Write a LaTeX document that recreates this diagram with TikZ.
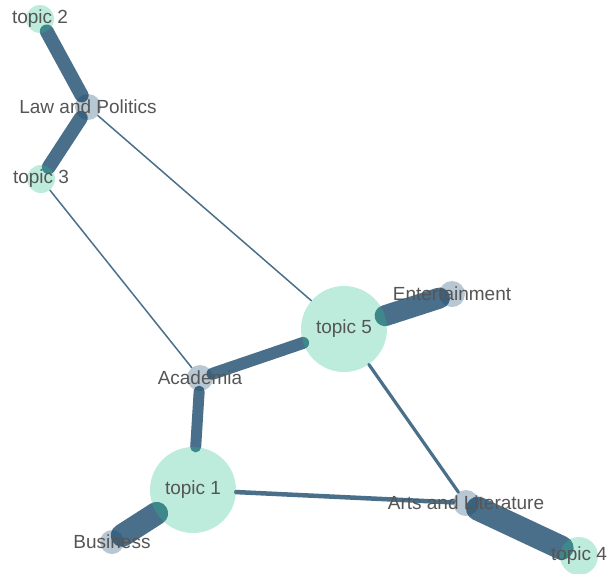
\documentclass[tikz,border=0pt]{standalone}
\usepackage{fontspec}
\setmainfont{Liberation Sans}
\definecolor{edgec}{RGB}{74,111,138}
\definecolor{topicc}{RGB}{37,192,144}
\definecolor{catc}{RGB}{18,68,108}
\definecolor{txtc}{RGB}{85,85,85}
\begin{document}
\begin{tikzpicture}[x=1pt,y=-1pt,
  topic/.style={circle,inner sep=0pt,fill=topicc,fill opacity=0.3,draw=none},
  cat/.style={circle,inner sep=0pt,fill=catc,fill opacity=0.3,draw=none,minimum size=26pt},
  lbl/.style={inner sep=0pt,text=txtc,font=\fontsize{19}{22}\selectfont},
  edge/.style={draw=edgec,line cap=round}]
\useasboundingbox (0,0) rectangle (609,573);
% node positions
\coordinate (p2) at (40,19);
\coordinate (plaw) at (88,107);
\coordinate (p3) at (41,179);
\coordinate (p5) at (344,329);
\coordinate (pent) at (452,294);
\coordinate (pac) at (200,378);
\coordinate (p1) at (193,490);
\coordinate (pbus) at (112,542);
\coordinate (parts) at (466,503);
\coordinate (p4) at (579,556);
% shape nodes (invisible, for connector clipping)
\node[circle,inner sep=0pt,minimum size=28pt] (t2) at (p2) {};
\node[circle,inner sep=0pt,minimum size=26pt] (law) at (plaw) {};
\node[circle,inner sep=0pt,minimum size=28pt] (t3) at (p3) {};
\node[circle,inner sep=0pt,minimum size=86pt] (t5) at (p5) {};
\node[circle,inner sep=0pt,minimum size=26pt] (ent) at (pent) {};
\node[circle,inner sep=0pt,minimum size=26pt] (ac) at (pac) {};
\node[circle,inner sep=0pt,minimum size=86pt] (t1) at (p1) {};
\node[circle,inner sep=0pt,minimum size=24pt] (bus) at (pbus) {};
\node[circle,inner sep=0pt,minimum size=26pt] (arts) at (parts) {};
\node[circle,inner sep=0pt,minimum size=38pt] (t4) at (p4) {};
% connectors
\draw[edge,line width=14pt] (t2) -- (law);
\draw[edge,line width=14pt] (law) -- (t3);
\draw[edge,line width=1.5pt] (law) -- (t5);
\draw[edge,line width=1.5pt] (t3) -- (ac);
\draw[edge,line width=12pt] (ac) -- (t5);
\draw[edge,line width=11pt] (ac) -- (t1);
\draw[edge,line width=21pt] (t5) -- (ent);
\draw[edge,line width=3.2pt] (t5) -- (arts);
\draw[edge,line width=4.5pt] (t1) -- (arts);
\draw[edge,line width=23pt] (t1) -- (bus);
\draw[edge,line width=24pt] (arts) -- (t4);
% visible circles
\node[topic,minimum size=28pt] (c2) at (p2) {};
\node[cat] (claw) at (plaw) {};
\node[topic,minimum size=28pt] (c3) at (p3) {};
\node[topic,minimum size=86pt] (c5) at (p5) {};
\node[cat] (cent) at (pent) {};
\node[cat] (cac) at (pac) {};
\node[topic,minimum size=86pt] (c1) at (p1) {};
\node[cat,minimum size=24pt] (cbus) at (pbus) {};
\node[cat] (carts) at (parts) {};
\node[topic,minimum size=38pt] (c4) at (p4) {};
% labels
\node[lbl] (l2) at (p2) {topic 2};
\node[lbl] (llaw) at (plaw) {Law and Politics};
\node[lbl] (l3) at (p3) {topic 3};
\node[lbl] (l5) at (p5) {topic 5};
\node[lbl] (lent) at (pent) {Entertainment};
\node[lbl] (lac) at (pac) {Academia};
\node[lbl] (l1) at (p1) {topic 1};
\node[lbl] (lbus) at (pbus) {Business};
\node[lbl] (larts) at (parts) {Arts and Literature};
\node[lbl] (l4) at (p4) {topic 4};
\end{tikzpicture}
\end{document}
